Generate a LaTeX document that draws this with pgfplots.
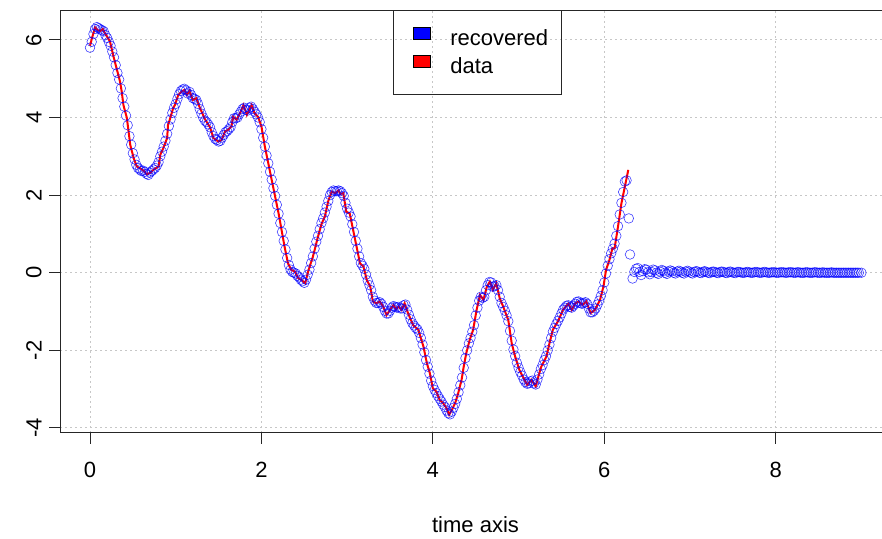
\documentclass[border=0pt]{standalone}
\usepackage{fontspec}
\setmainfont{Liberation Sans}
\usepackage{pgfplots}
\usepackage{pgfplotstable}
\pgfplotsset{compat=1.18}

\pgfplotstableread{
x y
0.00 5.85
0.03 6.10
0.06 6.32
0.09 6.25
0.12 6.23
0.15 6.28
0.175 6.17
0.20 6.08
0.233 5.96
0.27 5.61
0.30 5.35
0.33 5.10
0.35 4.93
0.37 4.67
0.39 4.32
0.43 3.99
0.45 3.64
0.47 3.29
0.51 2.95
0.545 2.74
0.60 2.67
0.63 2.62
0.66 2.54
0.70 2.57
0.74 2.65
0.80 2.74
0.82 3.04
0.855 3.21
0.90 3.47
0.91 3.81
0.93 3.94
0.97 4.24
0.99 4.32
1.03 4.58
1.07 4.67
1.10 4.71
1.13 4.58
1.16 4.69
1.20 4.45
1.24 4.50
1.28 4.26
1.34 3.96
1.40 3.75
1.44 3.47
1.50 3.38
1.535 3.42
1.575 3.64
1.61 3.68
1.65 3.77
1.67 4.02
1.71 3.94
1.75 4.11
1.79 4.32
1.83 4.07
1.885 4.32
1.92 4.11
1.96 4.02
2.00 3.77
2.04 3.25
2.08 2.82
2.12 2.39
2.16 1.96
2.20 1.53
2.235 1.10
2.27 0.67
2.31 0.24
2.35 0.07
2.39 0.03
2.43 -0.14
2.47 -0.19
2.51 -0.27
2.55 0.07
2.60 0.41
2.66 0.93
2.70 1.25
2.74 1.45
2.78 1.85
2.82 2.09
2.86 2.05
2.90 2.12
2.92 2.03
2.955 2.05
2.99 1.57
3.03 1.53
3.07 1.10
3.11 0.67
3.15 0.24
3.19 0.16
3.23 -0.19
3.27 -0.36
3.30 -0.74
3.34 -0.79
3.38 -0.74
3.42 -0.87
3.46 -1.09
3.50 -0.96
3.54 -0.83
3.57 -0.94
3.60 -0.87
3.635 -0.96
3.67 -0.79
3.71 -1.04
3.77 -1.35
3.83 -1.47
3.89 -1.90
3.93 -2.33
3.965 -2.59
4.00 -2.98
4.04 -3.06
4.08 -3.28
4.12 -3.36
4.16 -3.49
4.19 -3.66
4.22 -3.54
4.26 -3.36
4.295 -3.11
4.335 -2.76
4.36 -2.42
4.39 -2.07
4.43 -1.73
4.47 -1.47
4.51 -0.96
4.55 -0.57
4.59 -0.70
4.63 -0.36
4.665 -0.23
4.70 -0.44
4.74 -0.27
4.78 -0.66
4.82 -0.87
4.88 -1.22
4.92 -1.82
4.96 -2.16
5.01 -2.51
5.05 -2.68
5.10 -2.89
5.15 -2.76
5.20 -2.93
5.23 -2.68
5.265 -2.42
5.325 -2.16
5.36 -1.82
5.40 -1.47
5.46 -1.25
5.52 -0.95
5.58 -0.80
5.62 -0.96
5.66 -0.79
5.70 -0.74
5.745 -0.83
5.79 -0.74
5.84 -1.04
5.89 -0.96
5.95 -0.70
5.99 -0.36
6.02 0.07
6.06 0.33
6.095 0.63
6.12 0.63
6.16 1.19
6.20 1.79
6.24 2.22
6.28 2.65
}\datatable

\pgfplotstableread{
x y
0.00 5.80
0.02 5.95
0.04 6.15
0.06 6.28
0.08 6.33
0.10 6.30
0.12 6.27
0.14 6.25
0.16 6.22
0.18 6.12
0.20 6.05
0.22 5.95
0.24 5.85
0.26 5.70
0.28 5.55
0.30 5.35
0.32 5.15
0.34 4.98
0.36 4.75
0.38 4.50
0.40 4.28
0.42 4.05
0.44 3.80
0.46 3.52
0.48 3.30
0.50 3.08
0.52 2.92
0.54 2.78
0.56 2.70
0.58 2.66
0.60 2.62
0.62 2.63
0.64 2.60
0.66 2.55
0.68 2.52
0.70 2.58
0.72 2.62
0.74 2.66
0.76 2.70
0.78 2.76
0.80 2.85
0.82 3.00
0.84 3.12
0.86 3.25
0.88 3.40
0.90 3.58
0.92 3.78
0.94 3.95
0.96 4.12
0.98 4.25
1.00 4.35
1.02 4.48
1.04 4.60
1.06 4.68
1.08 4.72
1.10 4.74
1.12 4.70
1.14 4.62
1.16 4.66
1.18 4.58
1.20 4.50
1.22 4.48
1.24 4.45
1.26 4.35
1.28 4.22
1.30 4.10
1.32 4.00
1.34 3.92
1.36 3.88
1.38 3.82
1.40 3.75
1.42 3.62
1.44 3.52
1.46 3.45
1.48 3.42
1.50 3.38
1.52 3.40
1.54 3.48
1.56 3.55
1.58 3.62
1.60 3.65
1.62 3.70
1.64 3.75
1.66 3.88
1.68 3.98
1.70 3.98
1.72 4.00
1.74 4.08
1.76 4.15
1.78 4.22
1.80 4.25
1.82 4.20
1.84 4.18
1.86 4.25
1.88 4.28
1.90 4.22
1.92 4.15
1.94 4.08
1.96 4.00
1.98 3.88
2.00 3.70
2.02 3.48
2.04 3.25
2.06 3.02
2.08 2.82
2.10 2.60
2.12 2.40
2.14 2.18
2.16 1.98
2.18 1.75
2.20 1.52
2.22 1.28
2.24 1.05
2.26 0.82
2.28 0.60
2.30 0.38
2.32 0.20
2.34 0.08
2.36 0.02
2.38 0.00
2.40 -0.02
2.42 -0.08
2.44 -0.12
2.46 -0.18
2.48 -0.22
2.50 -0.26
2.52 -0.18
2.54 -0.05
2.56 0.08
2.58 0.25
2.60 0.42
2.62 0.62
2.64 0.80
2.66 0.95
2.68 1.12
2.70 1.28
2.72 1.40
2.74 1.55
2.76 1.70
2.78 1.85
2.80 2.00
2.82 2.08
2.84 2.12
2.86 2.10
2.88 2.10
2.90 2.12
2.92 2.10
2.94 2.05
2.96 1.98
2.98 1.80
3.00 1.65
3.02 1.55
3.04 1.45
3.06 1.25
3.08 1.05
3.10 0.82
3.12 0.62
3.14 0.42
3.16 0.25
3.18 0.18
3.20 0.10
3.22 -0.05
3.24 -0.20
3.26 -0.32
3.28 -0.45
3.30 -0.62
3.32 -0.72
3.34 -0.78
3.36 -0.78
3.38 -0.76
3.40 -0.80
3.42 -0.88
3.44 -0.98
3.46 -1.05
3.48 -1.05
3.50 -0.98
3.52 -0.90
3.54 -0.86
3.56 -0.88
3.58 -0.90
3.60 -0.88
3.62 -0.92
3.64 -0.92
3.66 -0.84
3.68 -0.82
3.70 -0.95
3.72 -1.08
3.74 -1.20
3.76 -1.30
3.78 -1.36
3.80 -1.42
3.82 -1.46
3.84 -1.55
3.86 -1.68
3.88 -1.85
3.90 -2.05
3.92 -2.25
3.94 -2.42
3.96 -2.60
3.98 -2.78
4.00 -2.92
4.02 -3.02
4.04 -3.10
4.06 -3.18
4.08 -3.25
4.10 -3.32
4.12 -3.40
4.14 -3.46
4.16 -3.55
4.18 -3.62
4.20 -3.65
4.22 -3.58
4.24 -3.48
4.26 -3.38
4.28 -3.25
4.30 -3.08
4.32 -2.90
4.34 -2.70
4.36 -2.45
4.38 -2.20
4.40 -2.00
4.42 -1.82
4.44 -1.68
4.46 -1.52
4.48 -1.35
4.50 -1.10
4.52 -0.90
4.54 -0.72
4.56 -0.62
4.58 -0.65
4.60 -0.62
4.62 -0.45
4.64 -0.32
4.66 -0.24
4.68 -0.25
4.70 -0.36
4.72 -0.35
4.74 -0.32
4.76 -0.45
4.78 -0.62
4.80 -0.78
4.82 -0.88
4.84 -0.98
4.86 -1.10
4.88 -1.25
4.90 -1.50
4.92 -1.75
4.94 -1.98
4.96 -2.15
4.98 -2.32
5.00 -2.45
5.02 -2.56
5.04 -2.65
5.06 -2.75
5.08 -2.82
5.10 -2.86
5.12 -2.85
5.14 -2.80
5.16 -2.78
5.18 -2.85
5.20 -2.88
5.22 -2.75
5.24 -2.62
5.26 -2.48
5.28 -2.38
5.30 -2.25
5.32 -2.15
5.34 -2.00
5.36 -1.85
5.38 -1.68
5.40 -1.52
5.42 -1.42
5.44 -1.32
5.46 -1.24
5.48 -1.15
5.50 -1.05
5.52 -0.95
5.54 -0.90
5.56 -0.85
5.58 -0.84
5.60 -0.88
5.62 -0.90
5.64 -0.85
5.66 -0.80
5.68 -0.75
5.70 -0.74
5.72 -0.78
5.74 -0.80
5.76 -0.78
5.78 -0.76
5.80 -0.80
5.82 -0.92
5.84 -1.02
5.86 -1.02
5.88 -0.98
5.90 -0.92
5.92 -0.82
5.94 -0.72
5.96 -0.60
5.98 -0.45
6.00 -0.25
6.02 -0.02
6.04 0.18
6.06 0.35
6.08 0.50
6.10 0.62
6.12 0.75
6.14 0.95
6.16 1.20
6.18 1.50
6.20 1.80
6.22 2.08
6.24 2.35
6.26 2.38
6.286 1.40
6.30 0.47
6.33 -0.15
6.35 0.02
6.37 0.10
6.39 0.12
6.41 0.02
6.43 -0.06
6.45 0.04
6.47 0.09
6.49 0.08
6.51 0.01
6.53 -0.04
6.55 0.02
6.57 0.08
6.59 0.06
6.61 0.00
6.63 -0.03
6.65 0.03
6.67 0.07
6.69 0.05
6.71 0.00
6.73 -0.03
6.75 0.03
6.77 0.06
6.79 0.04
6.81 0.00
6.83 -0.02
6.85 0.03
6.87 0.05
6.89 0.03
6.91 0.00
6.93 -0.02
6.95 0.03
6.97 0.05
6.99 0.03
7.01 0.00
7.03 -0.02
7.05 0.02
7.07 0.04
7.09 0.03
7.11 0.00
7.13 -0.01
7.15 0.02
7.17 0.04
7.19 0.02
7.21 0.00
7.23 -0.01
7.25 0.02
7.27 0.03
7.29 0.02
7.31 0.00
7.33 -0.01
7.35 0.02
7.37 0.03
7.39 0.02
7.41 0.00
7.43 -0.01
7.45 0.02
7.47 0.03
7.49 0.01
7.51 0.00
7.53 -0.01
7.55 0.02
7.57 0.02
7.59 0.01
7.61 0.00
7.63 0.00
7.65 0.01
7.67 0.02
7.69 0.01
7.71 0.00
7.73 0.00
7.75 0.01
7.77 0.02
7.79 0.01
7.81 0.00
7.83 0.00
7.85 0.01
7.87 0.02
7.89 0.01
7.91 0.00
7.93 0.00
7.95 0.01
7.97 0.01
7.99 0.01
8.01 0.00
8.03 0.00
8.05 0.01
8.07 0.01
8.09 0.01
8.11 0.00
8.13 0.00
8.15 0.01
8.17 0.01
8.19 0.01
8.21 0.00
8.23 0.00
8.25 0.01
8.27 0.01
8.29 0.00
8.31 0.00
8.33 0.00
8.35 0.01
8.37 0.01
8.39 0.00
8.41 0.00
8.43 0.00
8.45 0.01
8.47 0.01
8.49 0.00
8.51 0.00
8.53 0.00
8.55 0.01
8.57 0.00
8.59 0.00
8.61 0.00
8.63 0.00
8.65 0.01
8.67 0.00
8.69 0.00
8.71 0.00
8.73 0.00
8.75 0.00
8.77 0.00
8.79 0.00
8.81 0.00
8.83 0.00
8.85 0.00
8.87 0.00
8.89 0.00
8.91 0.00
8.93 0.00
8.95 0.00
8.97 0.00
9.00 0.00
}\rectable

\begin{document}
\begin{tikzpicture}
\begin{axis}[
  scale only axis,
  width=411pt, height=211.5pt,
  xmin=-0.35, xmax=9.24, ymin=-4.13, ymax=6.77,
  font=\fontsize{11}{13}\selectfont,
  xtick={0,2,4,6,8}, xticklabels={0,2,4,6,8},
  ytick={-4,-2,0,2,4,6}, yticklabels={-4,-2,0,2,4,6},
  grid=major,
  grid style={black!22, line width=0.5pt, dash pattern=on 1pt off 1.5pt},
  tick align=outside, tick pos=left,
  major tick length=5.5pt,
  tick style={black!85, line width=0.5pt},
  axis line style={draw=none},
  xticklabel style={anchor=north, inner sep=0pt},
  xticklabel shift=9pt,
  yticklabel style={rotate=90, anchor=south, inner sep=0pt},
  yticklabel shift=3.5pt,
  xlabel={time axis},
  xlabel style={at={(axis description cs:0.5055,0)}, anchor=center, yshift=-46pt, inner sep=0pt},
  legend style={at={(axis description cs:0.405,1)}, anchor=north west,
    draw=black!85, line width=0.5pt, fill=none,
    inner xsep=6.5pt, inner ysep=8pt,
    nodes={inner sep=0pt, text height=8pt, text depth=2.5pt},
    column sep=10pt, row sep=2.4pt,
    font=\fontsize{11}{13}\selectfont,
    cells={anchor=west}},
  clip=true,
]
\addplot[only marks, mark=o, mark size=2.4pt, blue, mark options={line width=0.3pt, draw opacity=0.75}, forget plot] table[x=x,y=y] {\rectable};
\addplot[red, line width=1pt, forget plot] table[x=x,y=y] {\datatable};
\addlegendimage{legend image code/.code={\path (0pt,0pt); \draw[fill=blue, draw=black, line width=0.4pt] (3pt,0pt) rectangle (11.5pt,6.3pt);}}
\addlegendentry{recovered}
\addlegendimage{legend image code/.code={\path (0pt,0pt); \draw[fill=red, draw=black, line width=0.4pt] (3pt,0pt) rectangle (11.5pt,6.3pt);}}
\addlegendentry{data}
\draw[black!85, line width=0.5pt] (rel axis cs:1,0) -- (rel axis cs:0,0) -- (rel axis cs:0,1) -- (rel axis cs:1,1);
\end{axis}
\pgfresetboundingbox
\path[use as bounding box] ([xshift=-30pt,yshift=-53pt]current axis.south west) rectangle ([yshift=5pt]current axis.north east);
\end{tikzpicture}
\end{document}
